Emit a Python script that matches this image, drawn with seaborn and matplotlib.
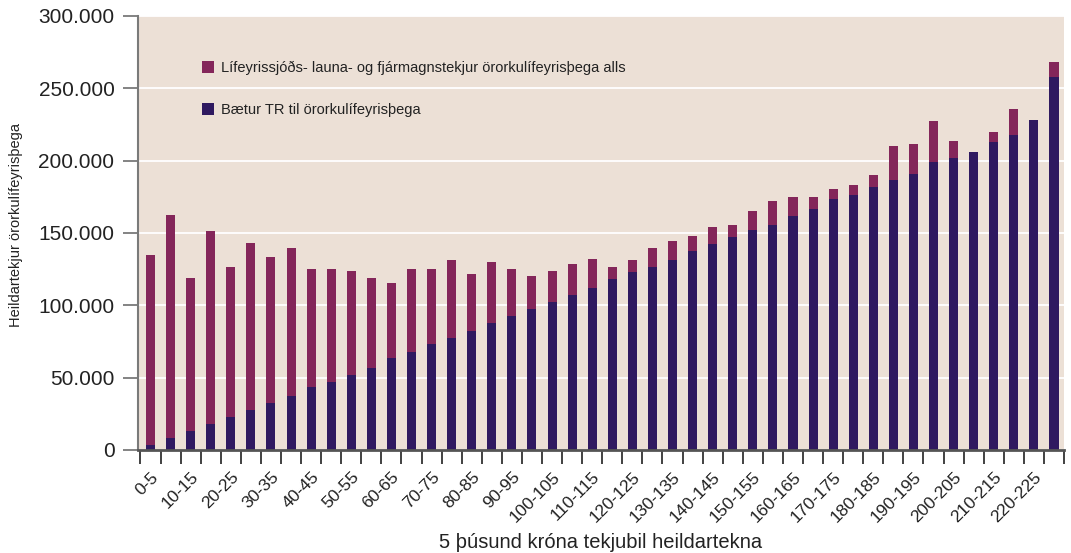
import matplotlib
matplotlib.use('Agg')
import matplotlib.pyplot as plt
import matplotlib.ticker as mticker
import seaborn as sns
import pandas as pd

# tekjubil (5 þúsund kr.)
tekjubil = ['0-5', '5-10', '10-15', '15-20', '20-25', '25-30', '30-35', '35-40',
            '40-45', '45-50', '50-55', '55-60', '60-65', '65-70', '70-75', '75-80',
            '80-85', '85-90', '90-95', '95-100', '100-105', '105-110', '110-115',
            '115-120', '120-125', '125-130', '130-135', '135-140', '140-145',
            '145-150', '150-155', '155-160', '160-165', '165-170', '170-175',
            '175-180', '180-185', '185-190', '190-195', '195-200', '200-205',
            '205-210', '210-215', '215-220', '220-225', '225-230']

# heildartekjur (efri brún súlu)
heildartekjur = [134800, 162400, 118900, 151400, 126500, 143100, 133400, 139600,
                 125100, 125100, 123700, 118900, 115400, 125100, 125100, 131300,
                 121700, 129900, 125100, 120300, 123700, 128600, 132000, 126500,
                 131300, 139600, 144500, 147900, 154100, 155500, 165200, 172100,
                 174900, 174900, 180500, 183400, 189900, 209800, 211200, 227100,
                 213300, 206300, 219500, 235500, 227800, 268100]

# bætur TR
baetur_tr = [3500, 8300, 13100, 18000, 22800, 27600, 32500, 37300,
             43500, 47000, 51800, 56700, 63600, 67700, 73300, 77400,
             82300, 87800, 92600, 97500, 102300, 107100, 112000, 118200,
             123000, 126500, 131300, 137500, 142400, 147200, 152100, 155500,
             161700, 166600, 173600, 176500, 182000, 186900, 191100, 199400,
             201500, 206300, 212600, 217400, 227800, 257700]

lab_annad = 'Lífeyrissjóðs- launa- og fjármagnstekjur örorkulífeyrisþega alls'
lab_tr = 'Bætur TR til örorkulífeyrisþega'

df = pd.DataFrame({'tekjubil': tekjubil, 'heild': heildartekjur, 'tr': baetur_tr})

sns.set_style('white')
plt.rcParams['font.family'] = ['Liberation Sans', 'DejaVu Sans']

fig = plt.figure(figsize=(10.71, 5.53), dpi=100)
ax = fig.add_axes([0.1289, 0.1863, 0.8646, 0.7848])
ax.set_facecolor('#ECE0D6')

sns.barplot(data=df, x='tekjubil', y='heild', color='#84265A', width=0.45,
            saturation=1, linewidth=0, label=lab_annad, ax=ax)
sns.barplot(data=df, x='tekjubil', y='tr', color='#2F1960', width=0.45,
            saturation=1, linewidth=0, label=lab_tr, ax=ax)

ax.set_ylim(0, 300000)
ax.set_xlim(-0.62, len(tekjubil) - 1 + 0.47)
ax.yaxis.set_major_locator(mticker.MultipleLocator(50000))
ax.yaxis.set_major_formatter(mticker.FuncFormatter(lambda v, p: f'{v:,.0f}'.replace(',', '.')))
ax.grid(axis='y', color='white', linewidth=1.3)
ax.set_axisbelow(True)

for s in ['top', 'right']:
    ax.spines[s].set_visible(False)
ax.spines['left'].set_color('#7a7a7a')
ax.spines['left'].set_linewidth(1.5)
ax.spines['bottom'].set_color('#555555')
ax.spines['bottom'].set_linewidth(2)

ax.tick_params(axis='y', direction='out', length=11, width=1.3, color='#7a7a7a',
               labelsize=15, labelcolor='#222222', pad=6, left=True)

# merki milli súlna, annar hver merkimiði
pos = list(range(len(tekjubil)))
ax.set_xticks(pos[::2])
ax.set_xticklabels(tekjubil[::2], rotation=45, ha='right', rotation_mode='anchor',
                   fontsize=12.5, color='#222222')
ax.set_xticks([p - 0.5 for p in pos] + [pos[-1] + 0.5], minor=True)
ax.tick_params(axis='x', which='major', length=0, pad=14)
ax.tick_params(axis='x', which='minor', direction='out', length=10, width=1.3,
               color='#333333', bottom=True)

ax.set_xlabel('5 þúsund króna tekjubil heildartekna', fontsize=14.5, color='#222222')
ax.xaxis.set_label_coords(0.5, -0.192)
ax.set_ylabel('Heildartekjur örorkulífeyrisþega', fontsize=10.5, color='#222222')
ax.yaxis.set_label_coords(-0.124, 0.518)

ax.legend(loc='upper left', bbox_to_anchor=(0.069, 0.897), frameon=False,
          prop={'size': 10.5}, labelcolor='#222222', handlelength=0.8, handleheight=0.9,
          handletextpad=0.5, labelspacing=1.95, borderaxespad=0, borderpad=0)

fig.savefig('out.png', dpi=100)
